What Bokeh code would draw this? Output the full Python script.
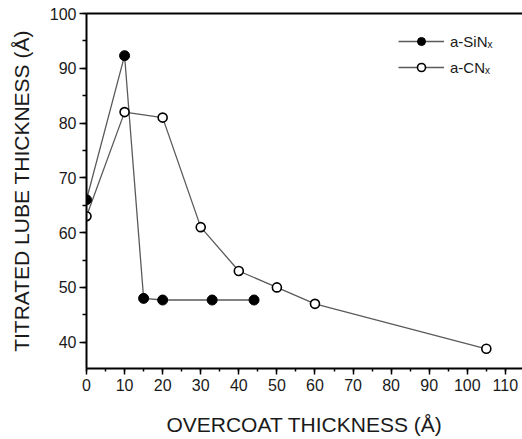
from bokeh.plotting import figure
from bokeh.models import (Range1d, LinearAxis, SingleIntervalTicker, FixedTicker, Legend,
                          LegendItem, ColumnDataSource)
from bokeh.embed import file_html
from bokeh.resources import INLINE

# ---- data ----
sin_x = [0, 10, 15, 20, 33, 44]
sin_y = [66.0, 92.3, 48.0, 47.7, 47.7, 47.7]
cn_x = [0, 10, 20, 30, 40, 50, 60, 105]
cn_y = [63.0, 82.0, 81.0, 61.0, 53.0, 50.0, 47.0, 38.8]
sin_label = "a-SiNₓ"
cn_label = "a-CNₓ"
x_title = "OVERCOAT THICKNESS (Å)"
y_title = "TITRATED LUBE THICKNESS (Å)"

FONT = "Liberation Sans"
TXT = "#1a1a1a"

p = figure(width=522, height=439, output_backend="svg", toolbar_location=None,
           x_range=Range1d(0, 114.5), y_range=Range1d(35.2, 100),
           min_border_left=86, min_border_right=0, min_border_top=13, min_border_bottom=71,
           x_axis_label=x_title, y_axis_label=y_title)
p.grid.visible = False
p.outline_line_color = None
p.background_fill_color = "white"
p.border_fill_color = "white"

xa = p.xaxis[0]
xa.ticker = SingleIntervalTicker(interval=10, num_minor_ticks=2)
ya = p.yaxis[0]
ya.ticker = SingleIntervalTicker(interval=10, num_minor_ticks=2)

for ax in (xa, ya):
    ax.axis_line_width = 2
    ax.axis_line_color = "black"
    ax.major_tick_line_width = 1.5
    ax.minor_tick_line_width = 1.5
    ax.major_tick_line_color = "black"
    ax.minor_tick_line_color = "black"
    ax.major_tick_in = 0
    ax.minor_tick_in = 0
    ax.major_label_text_font = FONT
    ax.major_label_text_font_size = "16px"
    ax.major_label_text_color = TXT
    ax.axis_label_text_font = FONT
    ax.axis_label_text_font_size = "21px"
    ax.axis_label_text_font_style = "normal"
    ax.axis_label_text_color = TXT

xa.major_tick_out = 6
xa.minor_tick_out = 3
xa.major_label_standoff = 4
xa.axis_label_standoff = 19
ya.major_tick_out = 7
ya.minor_tick_out = 4
ya.major_label_standoff = 3
ya.axis_label_standoff = 14

top = LinearAxis(ticker=FixedTicker(ticks=[]), major_tick_line_color=None,
                 minor_tick_line_color=None, axis_line_width=2, axis_line_color="black")
p.add_layout(top, "above")

line_col = "#5a5a5a"
src_sin = ColumnDataSource(dict(x=sin_x, y=sin_y))
src_cn = ColumnDataSource(dict(x=cn_x, y=cn_y))

l_cn = p.line("x", "y", source=src_cn, line_color=line_col, line_width=1.3)
l_sin = p.line("x", "y", source=src_sin, line_color=line_col, line_width=1.3)
m_cn = p.scatter("x", "y", source=src_cn, marker="circle", size=9,
                 fill_color="white", line_color="black", line_width=1.6)
m_sin = p.scatter("x", "y", source=src_sin, marker="circle", size=10,
                  fill_color="black", line_color="black", line_width=1)

legend = Legend(items=[LegendItem(label=sin_label, renderers=[l_sin, m_sin]),
                       LegendItem(label=cn_label, renderers=[l_cn, m_cn])],
                location=(312, 291), glyph_width=46, glyph_height=20, label_height=20,
                spacing=6, padding=0, margin=0, label_standoff=6,
                border_line_color=None, background_fill_alpha=0,
                label_text_font=FONT, label_text_font_size="15px", label_text_color=TXT)
p.add_layout(legend, "center")

open("out.html", "w").write(file_html(p, INLINE))
